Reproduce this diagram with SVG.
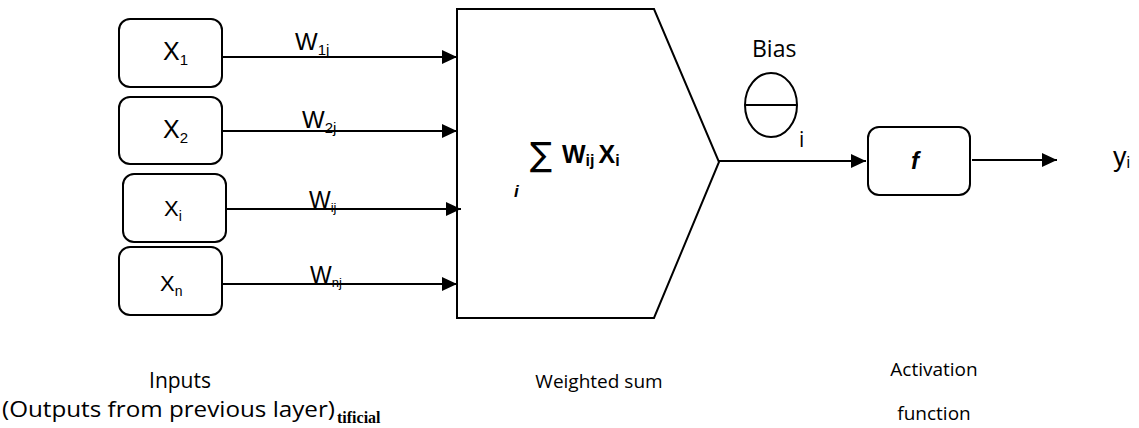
<svg xmlns="http://www.w3.org/2000/svg" width="1139" height="428" viewBox="0 0 1139 428">
  <style>
    .box { fill: #fff; stroke: #000; stroke-width: 2; }
    .wire { fill: none; stroke: #000; stroke-width: 2.2; }
    .cal { font-family: "Open Sans", "Noto Sans", sans-serif; fill: #000; }
    .ari { font-family: "Liberation Sans", Arial, sans-serif; fill: #000; }
  </style>
  <defs>
    <marker id="head" markerUnits="userSpaceOnUse" markerWidth="16" markerHeight="16" refX="15" refY="7" orient="auto">
      <path d="M0,0 L15,7 L0,14 z" fill="#000"/>
    </marker>
  </defs>

  <rect width="1139" height="428" fill="#fff"/>

  <!-- input neurons -->
  <g id="x1">
    <rect class="box" x="119" y="19" width="103" height="68" rx="11"/>
    <text class="ari" x="163" y="60" font-size="25">X<tspan font-size="15" dy="5">1</tspan></text>
  </g>
  <g id="x2">
    <rect class="box" x="119" y="97" width="103" height="67" rx="11"/>
    <text class="ari" x="163" y="138" font-size="25">X<tspan font-size="15" dy="5">2</tspan></text>
  </g>
  <g id="xi">
    <rect class="box" x="123" y="174" width="103" height="68" rx="11"/>
    <text class="ari" x="164" y="216" font-size="22">X<tspan font-size="14" dy="5">i</tspan></text>
  </g>
  <g id="xn">
    <rect class="box" x="119" y="247" width="103" height="68" rx="11"/>
    <text class="ari" x="160" y="291" font-size="22">X<tspan font-size="14" dy="5">n</tspan></text>
  </g>

  <!-- summation block -->
  <g id="sum">
    <path class="box" d="M457,9 L654,9 L719,162 L654,318 L457,318 Z"/>
    <text x="530" y="166" font-family="'DejaVu Sans', sans-serif" font-size="33" fill="#000">∑</text>
    <text class="ari" x="562" y="163" font-size="25" font-weight="bold">W<tspan font-size="16" dy="3">ij</tspan><tspan dy="-3" dx="4">X</tspan><tspan font-size="16" dy="3">i</tspan></text>
    <text class="ari" x="514" y="197" font-size="17" font-weight="bold" font-style="italic">i</text>
  </g>

  <!-- bias -->
  <g id="bias">
    <text class="cal" x="752" y="57" font-size="23">Bias</text>
    <ellipse cx="771" cy="105" rx="26" ry="32" fill="none" stroke="#000" stroke-width="2"/>
    <line x1="745" y1="105" x2="797" y2="105" stroke="#000" stroke-width="2"/>
    <text class="cal" x="799" y="147" font-size="21">i</text>
  </g>

  <!-- activation -->
  <g id="activation">
    <rect class="box" x="868" y="127" width="102" height="68" rx="11"/>
    <text class="ari" x="911" y="169" font-size="24" font-weight="bold" font-style="italic">f</text>
  </g>

  <!-- output -->
  <g id="output">
    <text class="ari" x="1113" y="166" font-size="27">y<tspan font-size="16" dy="2">i</tspan></text>
  </g>

  <!-- connectors -->
  <g id="connectors">
    <line class="wire" x1="222" y1="57" x2="457" y2="57" marker-end="url(#head)"/>
    <line class="wire" x1="222" y1="131" x2="457" y2="131" marker-end="url(#head)"/>
    <line class="wire" x1="226" y1="209" x2="461" y2="209" marker-end="url(#head)"/>
    <line class="wire" x1="222" y1="284" x2="457" y2="284" marker-end="url(#head)"/>
    <line class="wire" x1="719" y1="161" x2="866" y2="161" marker-end="url(#head)"/>
    <line class="wire" x1="972" y1="160" x2="1057" y2="160" marker-end="url(#head)"/>
  </g>

  <!-- weight labels -->
  <g id="weights">
    <text class="ari" x="295" y="50" font-size="24">W<tspan font-size="15" dy="5">1j</tspan></text>
    <text class="ari" x="302" y="128" font-size="24">W<tspan font-size="15" dy="5">2j</tspan></text>
    <text class="ari" x="309" y="208" font-size="23">W<tspan font-size="13" dy="4">ij</tspan></text>
    <text class="ari" x="310" y="283" font-size="23">W<tspan font-size="13" dy="4">nj</tspan></text>
  </g>

  <!-- captions -->
  <g id="captions">
    <text class="cal" x="180" y="388" font-size="21" text-anchor="middle">Inputs</text>
    <text class="cal" x="2" y="417" font-size="21" textLength="333" lengthAdjust="spacingAndGlyphs">(Outputs from previous layer)</text>
    <text class="cal" x="599" y="388" font-size="19" text-anchor="middle">Weighted sum</text>
    <text class="cal" x="934" y="376" font-size="19" text-anchor="middle">Activation</text>
    <text class="cal" x="934" y="420" font-size="19" text-anchor="middle">function</text>
    <text x="337" y="423" font-family="'Liberation Serif', serif" font-size="16" font-weight="bold">tificial</text>
  </g>
</svg>
